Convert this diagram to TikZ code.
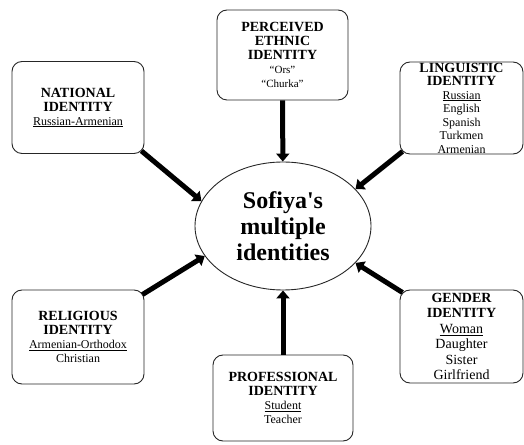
\documentclass[tikz,border=0pt]{standalone}
\usepackage{fontspec}
\setmainfont{Liberation Serif}
\usepackage{tikz}
\usetikzlibrary{shapes.geometric,arrows.meta}

\newcommand{\idhead}[1]{{\fontsize{14}{15}\selectfont\bfseries #1}}

\begin{document}
\begin{tikzpicture}[x=1pt,y=1pt,
	idbox/.style={shape=rectangle,rounded corners=10pt,draw=black!85,line width=0.9pt,
		minimum width=132pt,minimum height=92pt,inner sep=0pt,align=center,
		font=\fontsize{12}{14}\selectfont},
	bigarrow/.style={-{Triangle[length=8pt,width=13pt]},line width=5pt,black}]
	
	\useasboundingbox (0,0) rectangle (524,444);
	
	\node[shape=ellipse,draw=black!85,line width=0.9pt,minimum width=176pt,minimum height=128pt,
		inner sep=0pt,align=center,font=\fontsize{24}{26}\selectfont\bfseries] (self) at (283, 218)
		{Sofiya\textquotesingle s\\multiple\\identities};
	
	\node[idbox,minimum width=131pt,minimum height=90pt] (per) at (282.5, 389)
		{\idhead{PERCEIVED}\\\idhead{ETHNIC}\\\idhead{IDENTITY}\\{\fontsize{11}{13}\selectfont ``Ors''}\\{\fontsize{11}{13}\selectfont ``Churka''}};
	
	\node[idbox] (nat) at (78, 336.5)
		{\idhead{NATIONAL}\\\idhead{IDENTITY}\\\underline{Russian-Armenian}};
	\node[idbox,minimum width=123pt,font=\fontsize{12}{13.5}\selectfont] (ling) at (461.5, 336)
		{\idhead{LINGUISTIC}\\\idhead{IDENTITY}\\\underline{Russian}\\English\\Spanish\\Turkmen\\Armenian};
	
	\node[idbox,minimum height=94pt] (rel) at (78, 107)
		{\idhead{RELIGIOUS}\\\idhead{IDENTITY}\\\underline{Armenian-Orthodox}\\Christian};
	\node[idbox,minimum width=123pt,minimum height=93pt,font=\fontsize{14}{15.5}\selectfont] (gen) at (461.5, 107.5)
		{\idhead{GENDER}\\\idhead{IDENTITY}\\\underline{Woman}\\Daughter\\Sister\\Girlfriend};
	
	\node[idbox,minimum width=140pt,minimum height=86pt] (pro) at (283, 46)
		{\idhead{PROFESSIONAL}\\\idhead{IDENTITY}\\\underline{Student}\\Teacher};
	
	\draw[bigarrow] ([shift={(-3pt,3pt)}]nat.south east) -- (self.163);
	\draw[bigarrow] (per) -- (self);
	\draw[bigarrow] ([shift={(3pt,3pt)}]ling.south west) -- (self.27);
	\draw[bigarrow] ([shift={(-2pt,-5pt)}]rel.north east) -- (self.201);
	\draw[bigarrow] (pro) -- (self);
	\draw[bigarrow] ([shift={(3pt,-3pt)}]gen.north west) -- (self.333);
\end{tikzpicture}
\end{document}
